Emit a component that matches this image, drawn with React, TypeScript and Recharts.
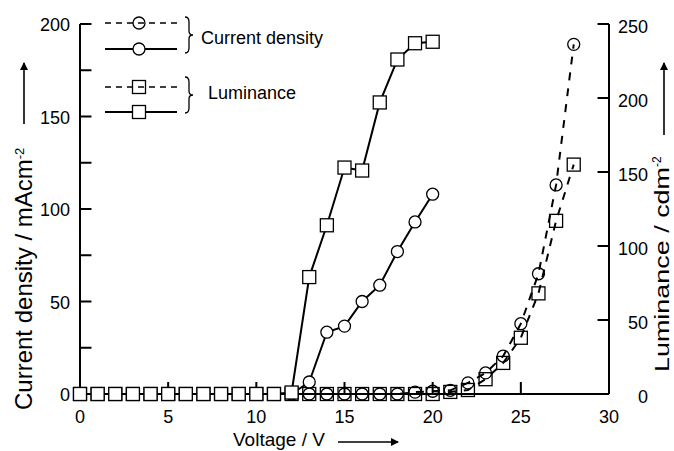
import { LineChart, Line, XAxis, YAxis, Legend, ReferenceLine } from "recharts";

const FONT = "'Liberation Sans', Arial, sans-serif";

// voltage steps (V)
const voltage = [0, 1, 2, 3, 4, 5, 6, 7, 8, 9, 10, 11, 12, 13, 14, 15, 16, 17, 18, 19, 20, 21, 22, 23, 24, 25, 26, 27, 28];

// current density, mA cm-2 (left axis)
const currentSolid = [0, 0, 0, 0, 0, 0, 0, 0, 0, 0, 0, 0, 0, 6.5, 33.4, 36.7, 50, 58.8, 77, 93, 108];
const currentDashed = [0, 0, 0, 0, 0, 0, 0, 0, 0, 0, 0, 0, 0, 0, 0, 0, 0, 0, 0, 1, 1.5, 2, 6, 11.4, 20.5, 38, 65, 113, 189];

// luminance, cd m-2 (right axis)
const lumSolid = [0, 0, 0, 0, 0, 0, 0, 0, 0, 0, 0, 0, 1, 79, 114, 153, 151, 197, 226, 237, 238];
const lumDashed = [0, 0, 0, 0, 0, 0, 0, 0, 0, 0, 0, 0, 0, 0, 0, 0, 0, 0, 0, 0, 0, 1.4, 2.7, 10, 21, 38, 68, 117, 155];

const xTicks = [0, 5, 10, 15, 20, 25, 30];
const leftTicks = [0, 25, 50, 75, 100, 125, 150, 175, 200];
const rightTicks = [0, 50, 100, 150, 200, 250];

const data = voltage.map((v, i) => ({
  v,
  jA: currentSolid[i] ?? null,
  jB: currentDashed[i] ?? null,
  lA: lumSolid[i] ?? null,
  lB: lumDashed[i] ?? null,
}));

const squareDot = (fill: string) => (p: any) => {
  if (p.cx == null || p.cy == null) return <g key={p.index} />;
  return (
    <rect
      key={p.index}
      x={p.cx - 6.5}
      y={p.cy - 6.5}
      width={13}
      height={13}
      fill={fill}
      stroke="#000"
      strokeWidth={1.3}
      strokeDasharray="none"
    />
  );
};

const LeftTick = (p: any) =>
  p.payload.value % 50 === 0 ? (
    <text x={p.x} y={p.y + 1} dy="0.35em" textAnchor="end" fill="#000" fontSize={18} fontFamily={FONT}>
      {p.payload.value}
    </text>
  ) : (
    <g />
  );

const RightTick = (p: any) => (
  <text x={p.x} y={p.y + 3} dy="0.35em" textAnchor="end" fill="#000" fontSize={18} fontFamily={FONT}>
    {p.payload.value}
  </text>
);

const BottomTick = (p: any) => (
  <text x={p.x} y={p.y} dy="0.71em" textAnchor="middle" fill="#000" fontSize={18} fontFamily={FONT}>
    {p.payload.value}
  </text>
);

function Brace({ x, y1, y2 }: { x: number; y1: number; y2: number }) {
  const m = (y1 + y2) / 2;
  const w = 4;
  return (
    <path
      d={`M${x} ${y1} Q${x + w} ${y1} ${x + w} ${y1 + 5} L${x + w} ${m - 4} Q${x + w} ${m} ${x + 2 * w} ${m} Q${x + w} ${m} ${x + w} ${m + 4} L${x + w} ${y2 - 5} Q${x + w} ${y2} ${x} ${y2}`}
      fill="none"
      stroke="#000"
      strokeWidth={1.3}
    />
  );
}

function LegendBox() {
  return (
    <svg width={240} height={110} style={{ display: "block" }}>
      <line x1={5} x2={77} y1={13} y2={13} stroke="#000" strokeWidth={1.6} strokeDasharray="6 5" />
      <circle cx={39} cy={13} r={6} fill="none" stroke="#000" strokeWidth={1.3} />
      <line x1={5} x2={77} y1={39} y2={39} stroke="#000" strokeWidth={1.8} />
      <circle cx={39} cy={39} r={6} fill="#fff" stroke="#000" strokeWidth={1.3} />
      <Brace x={85} y1={7} y2={43} />
      <text x={101} y={34} fontSize={18} fontFamily={FONT} fill="#000">Current density</text>

      <line x1={5} x2={77} y1={77} y2={77} stroke="#000" strokeWidth={1.6} strokeDasharray="6 5" />
      <rect x={32.5} y={70.5} width={13} height={13} fill="none" stroke="#000" strokeWidth={1.3} />
      <line x1={5} x2={77} y1={102} y2={102} stroke="#000" strokeWidth={1.8} />
      <rect x={32.5} y={95.5} width={13} height={13} fill="#fff" stroke="#000" strokeWidth={1.3} />
      <Brace x={85} y1={67} y2={103} />
      <text x={108} y={89} fontSize={18} fontFamily={FONT} fill="#000">Luminance</text>
    </svg>
  );
}

// inward tick length, expressed in each axis' units (~11-12 px)
const X_TICK_LEN = 0.65;
const LEFT_TICK_LEN = 6.5;

export default function App() {
  const axisStroke = { stroke: "#000", strokeWidth: 2 };
  return (
    <div style={{ position: "absolute", left: 0, top: 0, width: 674, height: 451, background: "#fff" }}>
      <LineChart width={674} height={451} data={data} margin={{ top: 24, right: 0, bottom: 0, left: 0 }}>
        <XAxis
          dataKey="v"
          type="number"
          domain={[0, 30]}
          ticks={xTicks}
          interval={0}
          height={57}
          tickSize={0}
          tickMargin={16}
          axisLine={axisStroke}
          tickLine={false}
          tick={BottomTick}
        />
        <YAxis
          yAxisId="left"
          domain={[0, 200]}
          ticks={leftTicks}
          interval={0}
          width={80}
          tickSize={0}
          tickMargin={10}
          axisLine={axisStroke}
          tickLine={false}
          tick={LeftTick}
        />
        <YAxis
          yAxisId="right"
          orientation="right"
          domain={[0, 250]}
          ticks={rightTicks}
          interval={0}
          width={65}
          tickSize={0}
          tickMargin={39}
          axisLine={axisStroke}
          tickLine={false}
          tick={RightTick}
        />
        <Legend layout="vertical" align="center" verticalAlign="middle" wrapperStyle={{ left: 100, top: 10, width: 240, height: 110 }} content={LegendBox} />

        {leftTicks.map((t) => (
          <ReferenceLine
            key={`lt${t}`}
            yAxisId="left"
            ifOverflow="visible"
            segment={[{ x: 0, y: t }, { x: X_TICK_LEN, y: t }]}
            stroke="#000"
            strokeWidth={2}
          />
        ))}
        {rightTicks.map((t) => (
          <ReferenceLine
            key={`rt${t}`}
            yAxisId="right"
            ifOverflow="visible"
            segment={[{ x: 30 - X_TICK_LEN, y: t }, { x: 30, y: t }]}
            stroke="#000"
            strokeWidth={2}
          />
        ))}
        {xTicks.slice(1, -1).map((t) => (
          <ReferenceLine
            key={`xt${t}`}
            yAxisId="left"
            ifOverflow="visible"
            segment={[{ x: t, y: 0 }, { x: t, y: LEFT_TICK_LEN }]}
            stroke="#000"
            strokeWidth={2}
          />
        ))}

        <Line
          yAxisId="right"
          dataKey="lB"
          type="linear"
          stroke="#000"
          strokeWidth={2}
          strokeDasharray="8 8"
          dot={squareDot("none")}
          isAnimationActive={false}
        />
        <Line
          yAxisId="left"
          dataKey="jB"
          type="linear"
          stroke="#000"
          strokeWidth={2}
          strokeDasharray="8 8"
          dot={{ r: 6, fill: "none", stroke: "#000", strokeWidth: 1.3, strokeDasharray: "none" }}
          isAnimationActive={false}
        />
        <Line
          yAxisId="left"
          dataKey="jA"
          type="linear"
          stroke="#000"
          strokeWidth={2}
          dot={{ r: 6, fill: "#fff", stroke: "#000", strokeWidth: 1.3 }}
          isAnimationActive={false}
        />
        <Line
          yAxisId="right"
          dataKey="lA"
          type="linear"
          stroke="#000"
          strokeWidth={2}
          dot={squareDot("#fff")}
          isAnimationActive={false}
        />
      </LineChart>
      <svg width={674} height={451} style={{ position: "absolute", left: 0, top: 0, pointerEvents: "none" }}>
        <defs>
          <marker id="ah" markerWidth={8} markerHeight={8} refX={7} refY={4} orient="auto" markerUnits="userSpaceOnUse">
            <path d="M0 0 L8 4 L0 8 Z" fill="#000" />
          </marker>
        </defs>
        <text transform="rotate(-90)" x={-410} y={32} fontSize={24} fontFamily={FONT} fill="#000">
          Current density / mAcm
          <tspan dy={-8} fontSize={13}>-2</tspan>
        </text>
        <line x1={24} x2={24} y1={124} y2={63} stroke="#000" strokeWidth={1.6} markerEnd="url(#ah)" />

        <text transform="rotate(-90)" x={-372} y={669} fontSize={21} fontFamily={FONT} fill="#000">
          <tspan textLength={205} lengthAdjust="spacingAndGlyphs">Luminance / cdm</tspan>
          <tspan dy={-8} fontSize={12}>-2</tspan>
        </text>
        <line x1={664} x2={664} y1={135} y2={63} stroke="#000" strokeWidth={1.6} markerEnd="url(#ah)" />

        <text x={233} y={446} fontSize={19} fontFamily={FONT} fill="#000">Voltage / V</text>
        <line x1={338} x2={398} y1={442} y2={442} stroke="#000" strokeWidth={1.6} markerEnd="url(#ah)" />
      </svg>
    </div>
  );
}
